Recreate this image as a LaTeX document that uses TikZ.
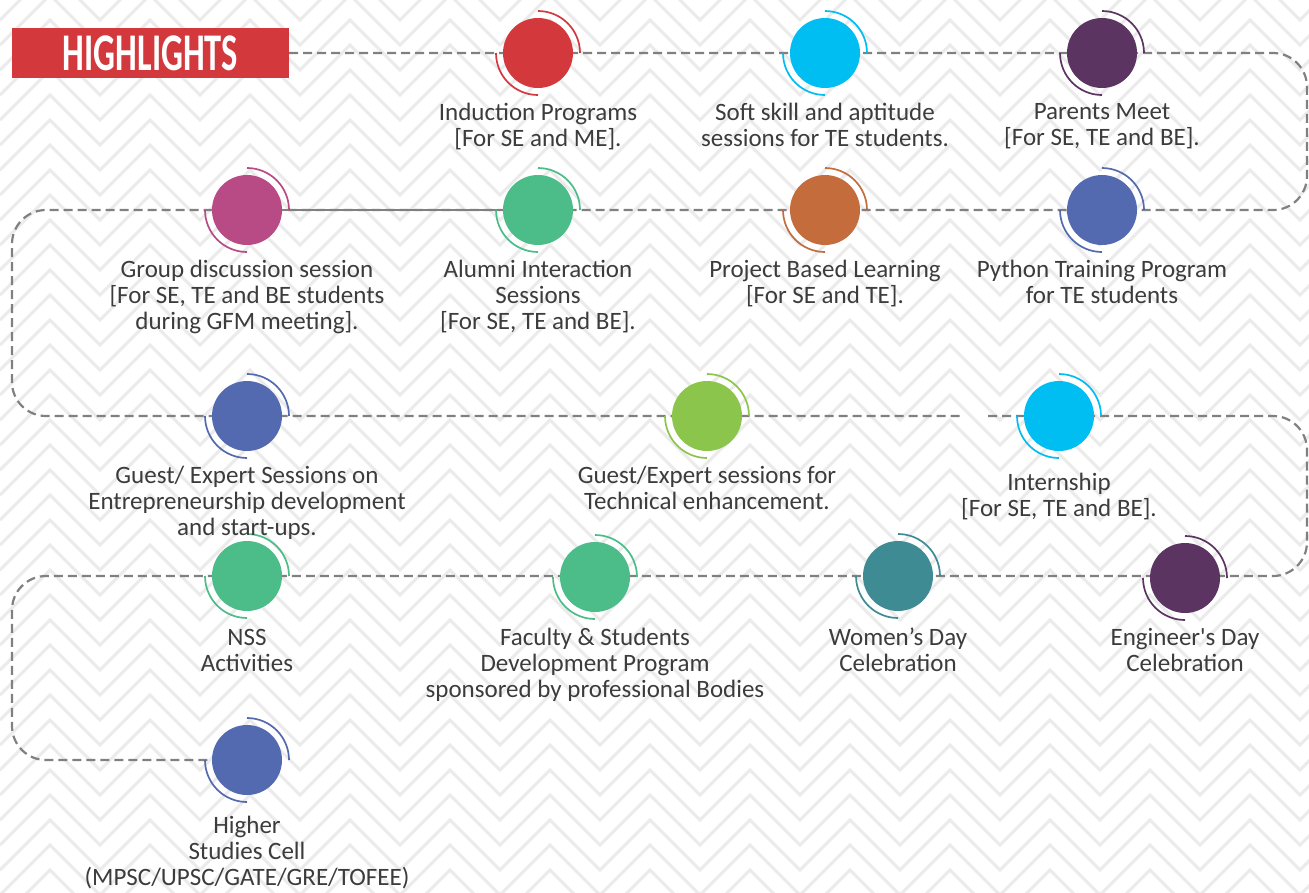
\documentclass[tikz,border=0pt]{standalone}
\usepackage{fontspec}
\setmainfont{Carlito}
\usetikzlibrary{positioning,backgrounds}

\definecolor{hlred}{HTML}{D3383C}
\definecolor{sky}{HTML}{00BDF2}
\definecolor{plum}{HTML}{5C3461}
\definecolor{rose}{HTML}{B84B86}
\definecolor{mint}{HTML}{4CBC88}
\definecolor{rust}{HTML}{C46C3C}
\definecolor{slate}{HTML}{536AB0}
\definecolor{lime}{HTML}{8CC54C}
\definecolor{sea}{HTML}{3F8B93}
\definecolor{ink}{HTML}{3C3C3C}
\definecolor{trailgray}{HTML}{808080}
\definecolor{zigzag}{HTML}{EBEBEB}

\tikzset{
  spot/.style={shape=circle, fill=#1, minimum size=70pt, inner sep=0pt},
  lbl/.style={align=center, text=ink, inner sep=0pt, font=\fontsize{25}{26}\selectfont},
  headbox/.style={fill=hlred, text=white, minimum width=277pt, minimum height=50pt,
    inner sep=0pt, font=\fontsize{53}{53}\selectfont\bfseries},
  trail/.style={draw=trailgray, line width=2.2pt, dash pattern=on 9pt off 5pt, rounded corners=34pt},
  zig/.style={draw=zigzag, line width=3pt},
}

\begin{document}
\begin{tikzpicture}[x=1pt, y=-1pt]
\useasboundingbox (0,0) rectangle (1309,892);

% background
\begin{scope}[on background layer]
\fill[white] (0,0) rectangle (1309,892);
\clip (0,0) rectangle (1309,892);
\foreach \j in {0,...,40}
  \draw[zig] (0,-5+25*\j) \foreach \k in {1,...,14} {-- ++(50,-50) -- ++(50,50)};
\end{scope}

\node[headbox] (hl) at (150.5,53) {\scalebox{0.65}[1]{HIGHLIGHTS}};

% row 1
\node (induct)  at (538,53)  [spot=hlred] {};
\node (soft)    at (825,53)  [spot=sky] {};
\node (parents) at (1102,53) [spot=plum] {};
% row 2
\node (group)   at (247,210)  [spot=rose] {};
\node (alumni)  at (538,210)  [spot=mint] {};
\node (project) at (825,210)  [spot=rust] {};
\node (python)  at (1102,210) [spot=slate] {};
% row 3
\node (entre)   at (247,416)  [spot=slate] {};
\node (tech)    at (707,416)  [spot=lime] {};
\node (intern)  at (1059,416) [spot=sky] {};
% row 4
\node (nss)      at (247,576)  [spot=mint] {};
\node (faculty)  at (595,577)  [spot=mint] {};
\node (women)    at (898,576)  [spot=sea] {};
\node (engineer) at (1185,578) [spot=plum] {};
% row 5
\node (higher)  at (247,760)  [spot=slate] {};

% trail
\coordinate (ne1) at (1307,53);
\coordinate (se1) at (1307,210);
\coordinate (sw2) at (12,210);
\coordinate (nw3) at (12,416);
\coordinate (gapL) at (962,416);
\coordinate (gapR) at (988,416);
\coordinate (ne3) at (1307,416);
\coordinate (se3) at (1307,576);
\coordinate (sw4) at (12,576);
\coordinate (nw5) at (12,760);
\begin{scope}[on background layer]
\draw[trail] (hl.east) -- (ne1) -- (se1) -- (sw2) -- (nw3) -- (gapL);
\draw[trail] (gapR) -- (ne3) -- (se3) -- (sw4) -- (nw5) -- (higher);
\draw[trailgray, line width=1.6pt] (group) -- (alumni);
\end{scope}

% rings
\foreach \n/\c in {induct/hlred, soft/sky, parents/plum, group/rose, alumni/mint,
    project/rust, python/slate, entre/slate, tech/lime, intern/sky, nss/mint,
    faculty/mint, women/sea, engineer/plum, higher/slate} {
  \draw[\c, line width=1.7pt] (\n.center) ++(0:42pt) arc[start angle=0, end angle=90, radius=42pt];
  \draw[\c, line width=1.7pt] (\n.center) ++(180:42pt) arc[start angle=180, end angle=270, radius=42pt];
}

% labels
\node[lbl, below=15pt of induct]   (induct-t)   {Induction Programs\\{}[For SE and ME].};
\node[lbl, below=15pt of soft]     (soft-t)     {Soft skill and aptitude\\sessions for TE students.};
\node[lbl, below=15pt of parents]  (parents-t)  {Parents Meet\\{}[For SE, TE and BE].};
\node[lbl, below=15pt of group]    (group-t)    {Group discussion session\\{}[For SE, TE and BE students\\during GFM meeting].};
\node[lbl, below=15pt of alumni]   (alumni-t)   {Alumni Interaction\\Sessions\\{}[For SE, TE and BE].};
\node[lbl, below=15pt of project]  (project-t)  {Project Based Learning\\{}[For SE and TE].};
\node[lbl, below=15pt of python]   (python-t)   {Python Training Program\\for TE students};
\node[lbl, below=15pt of entre]    (entre-t)    {Guest/ Expert Sessions on\\Entrepreneurship development\\and start-ups.};
\node[lbl, below=15pt of tech]     (tech-t)     {Guest/Expert sessions for\\Technical enhancement.};
\node[lbl, below=22pt of intern]   (intern-t)   {Internship\\{}[For SE, TE and BE].};
\node[lbl, below=18pt of nss]      (nss-t)      {NSS\\Activities};
\node[lbl, below=16pt of faculty]  (faculty-t)  {Faculty \& Students\\Development Program\\sponsored by professional Bodies};
\node[lbl, below=16pt of women]    (women-t)    {Women’s Day\\Celebration};
\node[lbl, below=15pt of engineer] (engineer-t) {Engineer\textquotesingle s Day\\Celebration};
\node[lbl, below=21pt of higher]   (higher-t)   {Higher\\Studies Cell\\(MPSC/UPSC/GATE/GRE/TOFEE)};
\end{tikzpicture}
\end{document}
